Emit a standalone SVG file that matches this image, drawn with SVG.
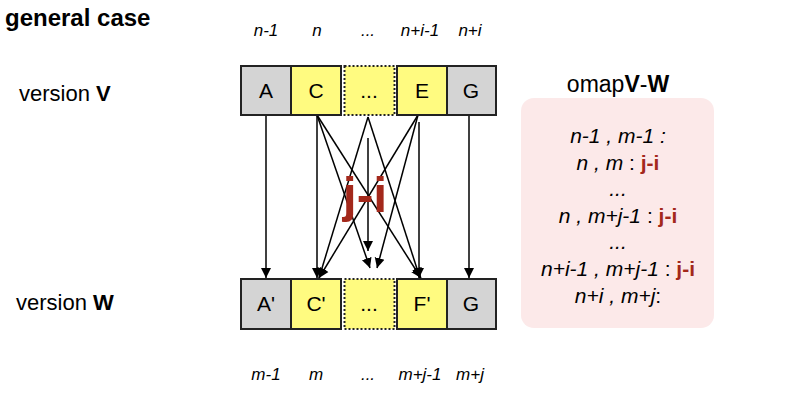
<svg xmlns="http://www.w3.org/2000/svg" width="800" height="400" viewBox="0 0 800 400">
<defs>
<marker id="ah" viewBox="0 0 10 10" refX="10" refY="5" markerWidth="10" markerHeight="11" markerUnits="userSpaceOnUse" orient="auto">
<path d="M0,0 L10,5 L0,10 z" fill="#000"/>
</marker>
<style>
text{font-family:"Liberation Sans",Arial,sans-serif;fill:#000}
.box{stroke:#222;stroke-width:2}
.g{fill:#d4d4d4}
.y{fill:#fffb80}
.dot{stroke-dasharray:2 2}
.lbl{font-size:21px;text-anchor:middle}
.idx{font-size:17px;font-style:italic;text-anchor:middle}
.ln{stroke:#000;stroke-width:1.5;fill:none;marker-end:url(#ah)}
.om{font-size:21px;font-style:italic;text-anchor:middle}
.red{fill:#a3281b;font-weight:bold;font-style:normal}
</style>
</defs>
<rect width="800" height="400" fill="#fff"/>
<text x="5" y="26" font-size="24" font-weight="bold">general case</text>
<text x="19" y="101" font-size="22">version <tspan font-weight="bold">V</tspan></text>
<text x="16" y="310" font-size="22">version <tspan font-weight="bold">W</tspan></text>

<g id="top-idx">
<text class="idx" x="266" y="36">n-1</text>
<text class="idx" x="317" y="36">n</text>
<text class="idx" x="368" y="36">...</text>
<text class="idx" x="420" y="36">n+i-1</text>
<text class="idx" x="470" y="36">n+i</text>
</g>
<g id="bot-idx">
<text class="idx" x="266" y="380">m-1</text>
<text class="idx" x="316" y="380">m</text>
<text class="idx" x="368" y="380">...</text>
<text class="idx" x="420" y="380">m+j-1</text>
<text class="idx" x="470" y="380">m+j</text>
</g>

<g id="connectors">
<line class="ln" x1="266" y1="115" x2="266" y2="278"/>
<line class="ln" x1="469" y1="115" x2="469" y2="278"/>
<line class="ln" x1="317" y1="115" x2="317" y2="278"/>
<line class="ln" x1="317" y1="115" x2="370" y2="268"/>
<line class="ln" x1="317" y1="115" x2="421" y2="278"/>
<line class="ln" x1="368" y1="117" x2="319" y2="278"/>
<line class="ln" x1="368" y1="117" x2="420" y2="278"/>
<line class="ln" x1="418" y1="115" x2="319" y2="278"/>
<line class="ln" x1="418" y1="115" x2="377" y2="268"/>
<line class="ln" x1="419" y1="122" x2="419" y2="278"/>
<line class="ln" x1="368" y1="138" x2="368" y2="251"/>
</g>

<text x="365" y="212" font-size="50" font-weight="bold" text-anchor="middle" style="fill:#a3281b">j-i</text>

<g id="v-A"><rect class="box g" x="241" y="66" width="50" height="49"/><text class="lbl" x="266" y="98">A</text></g>
<g id="v-C"><rect class="box y" x="291" y="66" width="50" height="49"/><text class="lbl" x="316" y="98">C</text></g>
<g id="v-dots"><rect class="box y dot" x="344.5" y="66" width="50" height="49"/><text class="lbl" x="369" y="98">...</text></g>
<g id="v-E"><rect class="box y" x="397" y="66" width="50" height="49"/><text class="lbl" x="422" y="98">E</text></g>
<g id="v-G"><rect class="box g" x="447" y="66" width="49" height="49"/><text class="lbl" x="471" y="98">G</text></g>

<g id="w-A"><rect class="box g" x="241" y="279" width="50" height="50"/><text class="lbl" x="266" y="311">A'</text></g>
<g id="w-C"><rect class="box y" x="291" y="279" width="50" height="50"/><text class="lbl" x="316" y="311">C'</text></g>
<g id="w-dots"><rect class="box y dot" x="344.5" y="279" width="50" height="50"/><text class="lbl" x="369" y="311">...</text></g>
<g id="w-F"><rect class="box y" x="397" y="279" width="50" height="50"/><text class="lbl" x="422" y="311">F'</text></g>
<g id="w-G"><rect class="box g" x="447" y="279" width="49" height="50"/><text class="lbl" x="471" y="311">G</text></g>

<g id="omap">
<text x="618" y="92" font-size="23" text-anchor="middle">omap<tspan font-weight="bold">V</tspan>-<tspan font-weight="bold">W</tspan></text>
<rect x="521" y="98" width="193" height="230" rx="13" fill="#fce9e9"/>
<text class="om" x="618" y="143">n-1 , m-1 :</text>
<text class="om" x="618" y="170">n , m <tspan font-style="normal">:</tspan> <tspan class="red">j-i</tspan></text>
<text class="om" x="618" y="196">...</text>
<text class="om" x="618" y="223">n , m+j-1 <tspan font-style="normal">:</tspan> <tspan class="red">j-i</tspan></text>
<text class="om" x="618" y="249">...</text>
<text class="om" x="618" y="276">n+i-1 , m+j-1 <tspan font-style="normal">:</tspan> <tspan class="red">j-i</tspan></text>
<text class="om" x="618" y="303">n+i , m+j<tspan font-style="normal">:</tspan></text>
</g>
</svg>
